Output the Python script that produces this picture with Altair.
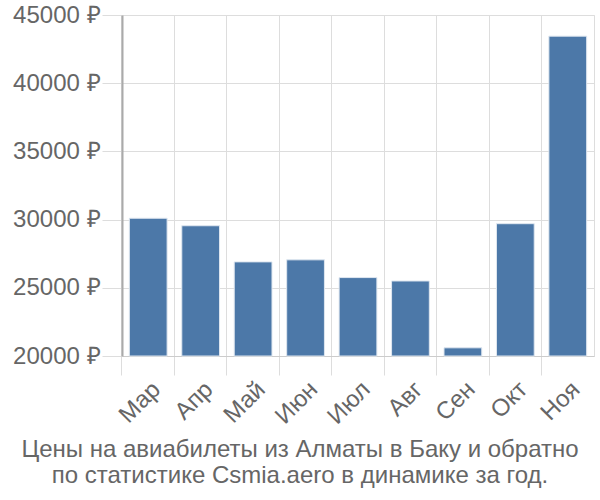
import altair as alt
import pandas as pd

months = ["Мар", "Апр", "Май", "Июн", "Июл", "Авг", "Сен", "Окт", "Ноя"]
prices = [30100, 29550, 26900, 27050, 25750, 25500, 20600, 29700, 43450]
y_ticks = [20000, 25000, 30000, 35000, 40000, 45000]
title_lines = ["Цены на авиабилеты из Алматы в Баку и обратно",
               "по статистике Csmia.aero в динамике за год."]

df = pd.DataFrame({"month": months, "price": prices})

FONT = "Liberation Sans"

bars = alt.Chart(df).mark_bar(
    color="#4c78a8", stroke="#dfe7f0", strokeWidth=1
).encode(
    x=alt.X("month:N", sort=months, title=None,
            scale=alt.Scale(paddingInner=0.28, paddingOuter=0.14),
            axis=alt.Axis(labelAngle=-45, labelFontSize=24, labelColor="#666",
                          labelFont=FONT, bandPosition=-0.195,
                          grid=True, gridColor="#ddd", tickColor="#ddd",
                          tickSize=19, domainColor="#ccc", labelPadding=2)),
    y=alt.Y("price:Q", title=None,
            scale=alt.Scale(domain=[20000, 45000], zero=False, nice=False),
            axis=alt.Axis(values=y_ticks, labelExpr="datum.value + ' ₽'",
                          labelFontSize=24, labelColor="#666", labelFont=FONT,
                          gridColor="#ddd", tickColor="#ddd", tickSize=20,
                          domainColor="#aaa", domainWidth=2, labelPadding=2)),
    y2=alt.datum(20000),
)

chart = bars.properties(
    width=472, height=341,
    padding={"left": 122, "top": 15, "right": 6, "bottom": 144},
    autosize=alt.AutoSizeParams(type="none"),
    title=alt.TitleParams(text=title_lines, orient="bottom", anchor="middle",
                          frame="group", dx=-58, offset=10,
                          fontSize=24, font=FONT, color="#666",
                          fontWeight="normal", lineHeight=26),
).configure_view(stroke="#ddd")

chart.save("out.html", embed_options={"renderer": "svg", "actions": False})
